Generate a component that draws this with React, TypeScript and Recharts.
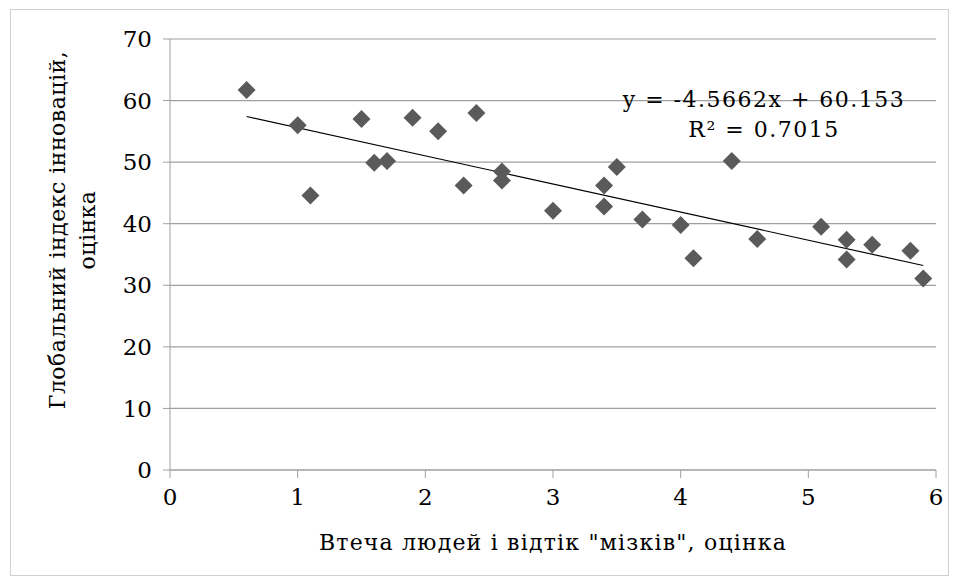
import React from 'react';
import {CartesianGrid, ReferenceLine, Scatter, ScatterChart, XAxis, YAxis} from "recharts";

const brainDrain = [0.6, 1.0, 1.1, 1.5, 1.6, 1.7, 1.9, 2.1, 2.3, 2.4, 2.6, 2.6, 3.0, 3.4, 3.4, 3.5, 3.7, 4.0, 4.1, 4.4, 4.6, 5.1, 5.3, 5.3, 5.5, 5.8, 5.9];
const innovationIndex = [61.7, 56.0, 44.6, 57.0, 49.9, 50.2, 57.2, 55.0, 46.2, 58.0, 48.5, 47.0, 42.1, 46.2, 42.8, 49.2, 40.7, 39.8, 34.4, 50.2, 37.5, 39.5, 37.4, 34.2, 36.6, 35.6, 31.1];
const xTicks = [0, 1, 2, 3, 4, 5, 6];
const yTicks = [0, 10, 20, 30, 40, 50, 60, 70];

const slope = -4.5662;
const intercept = 60.153;
const rSquared = 0.7015;

const data = brainDrain.map((x, i) => ({x, y: innovationIndex[i]}));
const xMin = Math.min(...brainDrain);
const xMax = Math.max(...brainDrain);

const FONT = '"DejaVu Serif", serif';
const GRID = '#a0a0a0';
const textStyle = {fontFamily: FONT, fontSize: 22, color: '#000'};

const Diamond = (props: any) => {
    const {cx, cy} = props;
    const r = 9;
    return <path d={`M${cx},${cy - r}L${cx + r},${cy}L${cx},${cy + r}L${cx - r},${cy}Z`} fill="#5a5a5a"/>;
};

const App = () => {
    return (
        <div style={{position: 'absolute', left: 0, top: 0, width: 960, height: 583, background: '#fff', fontFamily: FONT}}>
            <div style={{position: 'absolute', left: 10, top: 9, width: 937, height: 565, border: '1px solid #d0d0d0'}}/>
            <ScatterChart width={960} height={583} margin={{top: 39, right: 24, bottom: 73, left: 110}}
                          style={{position: 'absolute', left: 0, top: 0}}>
                <CartesianGrid vertical={false} stroke={GRID} strokeWidth={1.2}/>
                <XAxis type="number" dataKey="x" domain={[0, 6]} ticks={xTicks} height={40}
                       stroke={GRID} tickSize={8} tickMargin={11} fontSize={23} fontFamily={FONT}
                       tick={{fill: '#000', fontSize: 23, fontFamily: FONT}}/>
                <YAxis type="number" dataKey="y" domain={[0, 70]} ticks={yTicks} width={60}
                       stroke={GRID} tickSize={7} tickMargin={11} fontSize={23} fontFamily={FONT}
                       tick={{fill: '#000', fontSize: 23, fontFamily: FONT}}/>
                <ReferenceLine segment={[{x: xMin, y: slope * xMin + intercept}, {x: xMax, y: slope * xMax + intercept}]}
                               stroke="#000" strokeWidth={1.2}/>
                <Scatter data={data} shape={Diamond} isAnimationActive={false}/>
            </ScatterChart>
            <div style={{...textStyle, position: 'absolute', left: 564, top: 85, width: 400, textAlign: 'center',
                lineHeight: '30px', letterSpacing: 1.5}}>
                <div>y = {slope}x + {intercept}</div>
                <div>R² = {rSquared}</div>
            </div>
            <div style={{...textStyle, position: 'absolute', left: 203, top: 530, width: 700, textAlign: 'center',
                letterSpacing: 1.2}}>
                Втеча людей і відтік "мізків", оцінка
            </div>
            <div style={{position: 'absolute', left: 73, top: 230, width: 0, height: 0}}>
                <div style={{...textStyle, position: 'absolute', left: -250, top: -30, width: 500, textAlign: 'center',
                    lineHeight: '30px', letterSpacing: 0.5, transform: 'rotate(-90deg)', transformOrigin: '250px 30px'}}>
                    <div>Глобальний індекс інновацій,</div>
                    <div>оцінка</div>
                </div>
            </div>
        </div>
    );
};

export default App;
